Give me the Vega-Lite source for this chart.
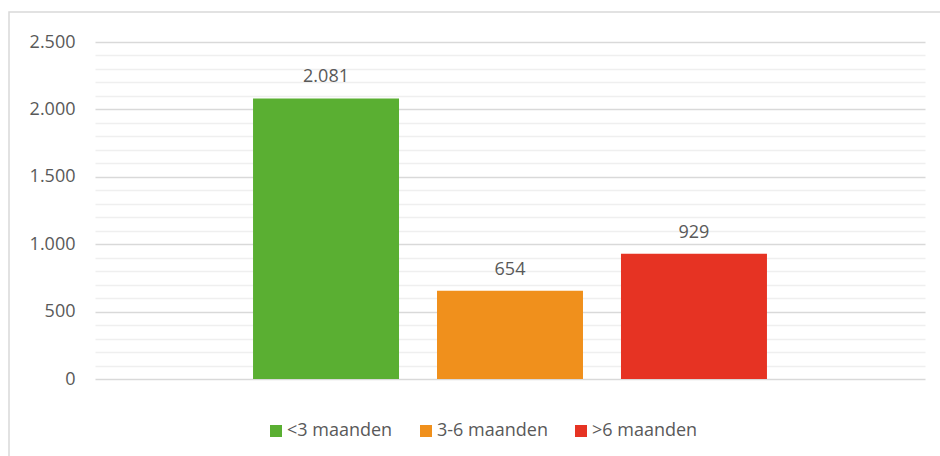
{
  "$schema": "https://vega.github.io/schema/vega-lite/v6.json",
  "width": 935,
  "height": 450,
  "autosize": {"type": "none"},
  "padding": {"left": 9, "top": 12, "right": 0, "bottom": 0},
  "background": "white",
  "config": {
    "view": {"stroke": "#d9d9d9", "strokeWidth": 1.5},
    "font": "Open Sans",
    "locale": {"number": {"decimal": ",", "thousands": ".", "grouping": [3], "currency": ["€", ""]}}
  },
  "data": {
    "values": [
      {"periode": "<3 maanden", "aantal": 2081},
      {"periode": "3-6 maanden", "aantal": 654},
      {"periode": ">6 maanden", "aantal": 929}
    ]
  },
  "encoding": {
    "x": {
      "field": "periode",
      "type": "nominal",
      "sort": null,
      "scale": {"range": [86, 916], "paddingInner": 0.2065, "paddingOuter": 0.859},
      "axis": null
    },
    "y": {
      "field": "aantal",
      "type": "quantitative",
      "scale": {"domain": [0, 2500], "range": [367, 30], "nice": false},
      "axis": {
        "values": [0, 100, 200, 300, 400, 500, 600, 700, 800, 900, 1000, 1100, 1200, 1300, 1400, 1500, 1600, 1700, 1800, 1900, 2000, 2100, 2200, 2300, 2400, 2500],
        "grid": true,
        "gridColor": {"condition": {"test": "datum.value % 500 === 0", "value": "#d9d9d9"}, "value": "#efefef"},
        "gridWidth": 1.5,
        "domain": false,
        "ticks": false,
        "labelExpr": "datum.value % 500 === 0 ? datum.label : ''",
        "labelOverlap": false,
        "labelFontSize": 18,
        "labelColor": "#595959",
        "labelPadding": 20,
        "offset": -86,
        "title": null,
        "zindex": 0
      }
    }
  },
  "layer": [
    {
      "mark": {"type": "bar"},
      "encoding": {
        "color": {
          "field": "periode",
          "type": "nominal",
          "scale": {"domain": ["<3 maanden", "3-6 maanden", ">6 maanden"], "range": ["#5aaf32", "#f0901c", "#e63323"]},
          "legend": {
            "orient": "none",
            "legendX": 258,
            "legendY": 410,
            "direction": "horizontal",
            "title": null,
            "symbolType": "square",
            "symbolSize": 144,
            "symbolStrokeWidth": 0,
            "symbolOpacity": 1,
            "labelFontSize": 18,
            "labelColor": "#595959",
            "labelOffset": 2,
            "columnPadding": 24,
            "padding": 0
          }
        }
      }
    },
    {
      "mark": {"type": "text", "baseline": "bottom", "dy": -12, "fontSize": 18, "color": "#595959"},
      "encoding": {"text": {"field": "aantal", "type": "quantitative", "format": ","}}
    }
  ]
}
